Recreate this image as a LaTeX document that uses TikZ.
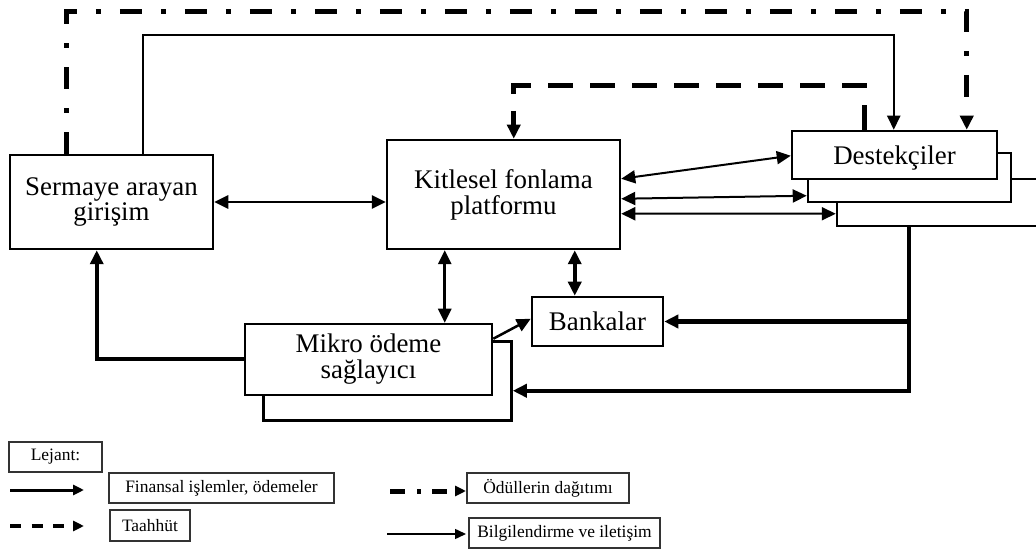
\documentclass[tikz,border=0pt]{standalone}
\usepackage{fontspec}
\setmainfont{Liberation Serif}
\usetikzlibrary{arrows.meta,calc}
\tikzset{
  box/.style={draw, line width=2.5bp, fill=white, inner sep=0pt, align=center,
    font=\fontsize{27}{26}\selectfont},
  lbox/.style={draw=black!80, line width=1.3bp, inner sep=0pt, align=center,
    font=\fontsize{17.5}{20}\selectfont},
  tip/.style={-{Triangle[length=14bp,width=13bp]}},
  dtip/.style={{Triangle[length=14bp,width=13bp]}-{Triangle[length=14bp,width=13bp]}},
  ltip/.style={-{Triangle[length=11bp,width=10bp]}},
  dashdotline/.style={line width=5bp, dash pattern=on 22bp off 19bp on 5bp off 19bp},
  dashline/.style={line width=5bp, dash pattern=on 25bp off 17bp},
}
\begin{document}
\begin{tikzpicture}[x=1bp,y=-1bp,line join=miter]
\clip (0,0) rectangle (1036,551);
% boxes
\node[box, minimum width=203bp, minimum height=94bp] (serm) at (111.5,202) {Sermaye arayan\\girişim};
\node[box, minimum width=233bp, minimum height=109bp] (kit) at (503.5,194.5) {Kitlesel fonlama\\platformu};
\node[box, minimum width=213bp, minimum height=47bp] (dest3) at (943.5,202.5) {};
\node[box, minimum width=203bp, minimum height=49bp] (dest2) at (909.5,177.5) {};
\node[box, minimum width=205bp, minimum height=48bp, text depth=0pt] (dest1) at (894.5,155) {Destekçiler};
\node[box, minimum width=248bp, minimum height=79bp] (mik2) at (387.5,381) {};
\node[box, minimum width=247bp, minimum height=71bp] (mik1) at (368.5,359.5) {Mikro ödeme\\sağlayıcı};
\node[box, minimum width=131bp, minimum height=49bp] (bank) at (597.5,321.5) {Bankalar};

% connectors
\draw[line width=2.7bp, dtip] (serm.east) -- (serm.east -| kit.west);
\draw[line width=2bp, dtip] ($(kit.north east)+(0,40)$) -- ($(dest1.north west)+(0,26)$);
\draw[line width=2bp, dtip] ($(kit.north east)+(0,60)$) -- ($(dest2.north west)+(0,44)$);
\draw[line width=2bp, dtip] ($(kit.north east)+(0,75)$) -- ($(dest3.north west)+(0,36)$);
\draw[dashline, tip] ($(dest1.north west)+(74,0)$) -- ++(0,-44) -| ($(kit.north west)+(128,0)$);
\draw[line width=2bp, tip] ($(serm.north west)+(134,0)$) -- ++(0,-119) -| ($(dest1.north west)+(103,0)$);
\draw[dashdotline, tip] ($(serm.north west)+(58,0)$) -- ++(0,-142) -| ($(dest1.north west)+(176,0)$);
\draw[line width=4bp, tip] (mik1.west) -| ($(serm.south west)+(88,0)$);
\draw[line width=3bp, dtip] ($(kit.south west)+(59,0)$) coordinate (km) -- (km |- mik1.north);
\draw[line width=4bp, dtip] ($(kit.south west)+(189,0)$) coordinate (kb) -- (kb |- bank.north);
\draw[line width=2.5bp, tip] ($(mik1.north east)+(0,16)$) -- ($(bank.north west)+(0,23)$);
\coordinate (jtop) at ($(dest3.south west)+(73,0)$);
\draw[line width=4.5bp, tip] (jtop) |- ($(mik2.south east)+(0,-31)$);
\draw[line width=4.5bp, tip] (jtop |- bank.east) -- (bank.east);

% legend
\node[lbox, minimum width=93bp, minimum height=30bp] (lej) at (55.5,457) {Lejant:};
\node[lbox, minimum width=225bp, minimum height=30bp] (lfin) at (221.5,488) {Finansal işlemler, ödemeler};
\node[lbox, minimum width=80bp, minimum height=31bp] (ltaa) at (150,525.5) {Taahhüt};
\node[lbox, minimum width=162bp, minimum height=30bp] (lodu) at (548,488) {Ödüllerin dağıtımı};
\node[lbox, minimum width=191bp, minimum height=30bp] (lbil) at (564.5,533) {Bilgilendirme ve iletişim};
\coordinate (lfs) at (10,490);  \coordinate (lfe) at (84,490);
\coordinate (lts) at (10,526);  \coordinate (lte) at (84,526);
\coordinate (lds) at (390,491); \coordinate (lde) at (466,491);
\coordinate (lbs) at (387,534); \coordinate (lbe) at (466,534);
\draw[line width=3bp, ltip] (lfs) -- (lfe);
\draw[line width=3.5bp, dash pattern=on 11bp off 10.5bp, ltip] (lts) -- (lte);
\draw[line width=5bp, dash pattern=on 15bp off 12bp on 4bp off 11bp, ltip] (lds) -- (lde);
\draw[line width=1.5bp, ltip] (lbs) -- (lbe);
\end{tikzpicture}
\end{document}
